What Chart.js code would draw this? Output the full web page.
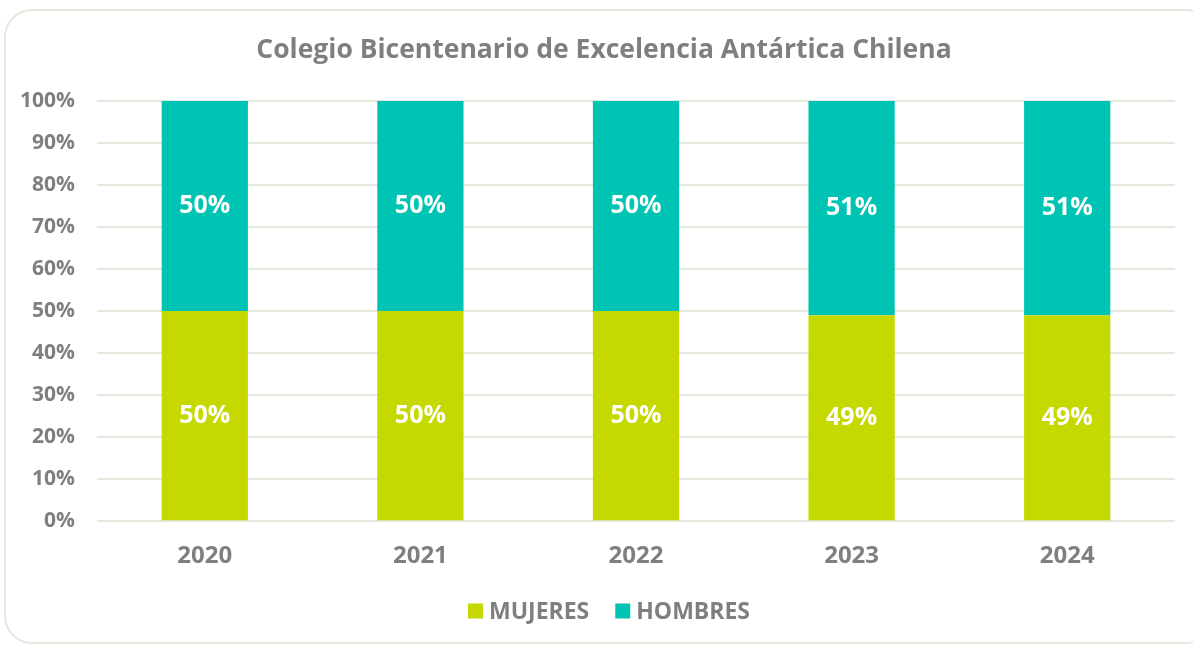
<!DOCTYPE html>
<html>
<head>
<meta charset="utf-8">
<script src="https://cdn.jsdelivr.net/npm/chart.js@4/dist/chart.umd.min.js"></script>
<style>
html,body{margin:0;padding:0;background:#fff;overflow:hidden;}
#frame{position:absolute;left:4px;top:9px;width:1210px;height:635px;border:2px solid #e2e9dc;border-radius:28px;box-sizing:border-box;}
#wrap{position:absolute;left:0;top:0;width:1193px;height:646px;}
</style>
</head>
<body>
<div id="frame"></div>
<div id="wrap"><canvas id="chart"></canvas></div>
<script>
/* ================= DATA ================= */
const years=['2020','2021','2022','2023','2024'];
const mujeres=[50,50,50,49,49];
const hombres=[50,50,50,51,51];
const yTicks=[0,10,20,30,40,50,60,70,80,90,100];

const TITLE='Colegio Bicentenario de Excelencia Antártica Chilena';
const FONT='"Open Sans", "Noto Sans", sans-serif';
const GREY='#7f7f7f';

/* ================= VALUE LABELS ================= */
const valueLabels={
id:'valueLabels',
afterDatasetsDraw(chart){
const ctx=chart.ctx;
ctx.save();
ctx.fillStyle='#ffffff';
ctx.font='bold 25px '+FONT;
ctx.textAlign='center';
ctx.textBaseline='middle';
chart.data.datasets.forEach((ds,i)=>{
chart.getDatasetMeta(i).data.forEach((bar,j)=>{
let mid=(bar.y+bar.base)/2;
ctx.fillText(ds.data[j]+'%',bar.x,mid);
});
});
ctx.restore();
}
};

/* ================= TITLE + LEGEND (centred like the original, not on chart area) ================= */
const header={
id:'header',
afterDraw(chart){
const ctx=chart.ctx;
ctx.save();
ctx.fillStyle=GREY;
ctx.textBaseline='middle';
ctx.font='bold 26.5px '+FONT;
ctx.textAlign='center';
ctx.fillText(TITLE,604,50);

// legend
ctx.font='bold 23px '+FONT;
ctx.textAlign='left';
const box=15,gap=6,space=26,cy=611;
let items=chart.data.datasets.map(ds=>({text:ds.label,color:ds.backgroundColor,w:ctx.measureText(ds.label).width}));
let total=items.reduce((s,it)=>s+box+gap+it.w,0)+space*(items.length-1);
let x=609-total/2;
items.forEach(it=>{
ctx.fillStyle=it.color;
ctx.fillRect(x,cy-box/2,box,box);
ctx.fillStyle=GREY;
ctx.fillText(it.text,x+box+gap,cy+1);
x+=box+gap+it.w+space;
});
ctx.restore();
}
};

new Chart(document.getElementById('chart'),{
type:'bar',
data:{
labels:years,
datasets:[
{label:'MUJERES',data:mujeres,backgroundColor:'#c5d800',barPercentage:0.8,categoryPercentage:0.5},
{label:'HOMBRES',data:hombres,backgroundColor:'#00c4b3',barPercentage:0.8,categoryPercentage:0.5}
]
},
options:{
responsive:true,
maintainAspectRatio:false,
animation:false,
layout:{padding:{left:0,right:18,top:101,bottom:62}},
plugins:{
title:{display:false},
legend:{display:false},
tooltip:{enabled:false}
},
scales:{
x:{
stacked:true,
grid:{display:false},
border:{display:false},
ticks:{color:GREY,padding:13,font:{family:FONT,size:24,weight:'bold'}}
},
y:{
stacked:true,
min:0,
max:100,
afterBuildTicks:s=>{s.ticks=yTicks.map(v=>({value:v}));},
afterFit:s=>{s.width=97;},
grid:{color:'#e3e9dc',lineWidth:2,drawTicks:false},
border:{display:false},
ticks:{
color:GREY,
padding:22,
font:{family:FONT,size:21,weight:'bold'},
callback:v=>v+'%'
}
}
}
},
plugins:[valueLabels,header]
});
</script>
</body>
</html>
